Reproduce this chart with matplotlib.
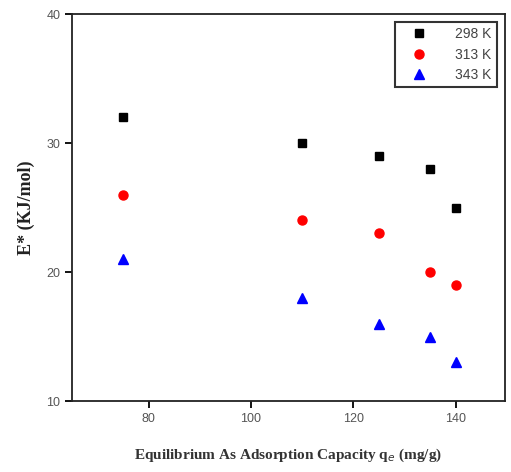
import matplotlib
matplotlib.use("Agg")
import matplotlib.pyplot as plt

qe = [75, 110, 125, 135, 140]
E_298 = [32, 30, 29, 28, 25]
E_313 = [26, 24, 23, 20, 19]
E_343 = [21, 18, 16, 15, 13]
labels = ["298 K", "313 K", "343 K"]

fig = plt.figure(figsize=(5.11, 4.72), dpi=100)
ax = fig.add_axes([0.1409, 0.1504, 0.847, 0.8199])

ax.plot(qe, E_298, linestyle="none", marker="s", color="black", markersize=6, label=labels[0])
ax.plot(qe, E_313, linestyle="none", marker="o", color="red", markersize=6.5, label=labels[1])
ax.plot(qe, E_343, linestyle="none", marker="^", color="blue", markersize=6.5, label=labels[2])

ax.set_xlim(65, 149.6)
ax.set_ylim(10, 40)
ax.set_xticks([80, 100, 120, 140])
ax.set_yticks([10, 20, 30, 40])
for s in ax.spines.values():
    s.set_linewidth(1.3)
    s.set_color("#222222")
ax.tick_params(direction="out", length=5, width=1.3, labelsize=9, labelcolor="#555555",
               top=False, right=False)
for t in ax.get_xticklabels() + ax.get_yticklabels():
    t.set_fontfamily("Liberation Sans")

ax.set_xlabel("Equilibrium As Adsorption Capacity q$_e$ (mg/g)", fontfamily="Liberation Serif",
              fontweight="bold", fontsize=11, color="#333333", labelpad=16)
ax.set_ylabel("E* (KJ/mol)", fontfamily="Liberation Serif", fontweight="bold", fontsize=13,
              color="#222222", labelpad=8)

leg = ax.legend(loc="upper right", bbox_to_anchor=(0.981, 0.98), frameon=True, fancybox=False,
                prop={"family": "Liberation Sans", "size": 10}, handletextpad=1.3,
                borderpad=0.4, labelspacing=0.45, handlelength=2.6, borderaxespad=0)
leg.get_frame().set_edgecolor("black")
leg.get_frame().set_linewidth(1.5)
for t in leg.get_texts():
    t.set_color("#444444")

fig.savefig("out.png", dpi=100)
